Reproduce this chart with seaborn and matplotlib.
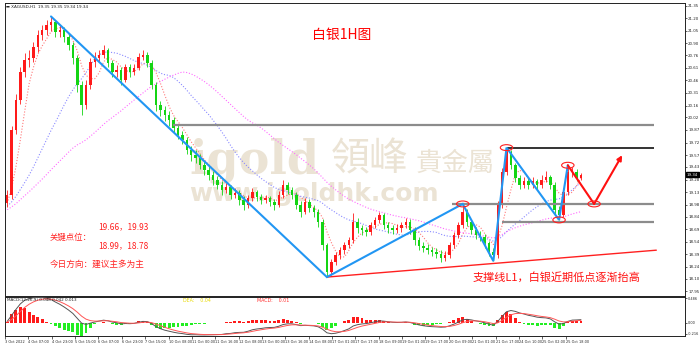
import numpy as np
import pandas as pd
import matplotlib
matplotlib.use("Agg")
import matplotlib.pyplot as plt
from matplotlib.patches import Ellipse
import seaborn as sns

# ---------------- data (3-hour bars) ----------------
first_open = 19.00
closes = [19.10, 19.87, 20.23, 20.56, 20.70, 20.73, 20.86, 21.00, 21.06, 21.12,
          21.15, 21.04, 21.06, 20.98, 20.88, 20.73, 20.41, 20.17, 20.41, 20.68,
          20.73, 20.76, 20.82, 20.67, 20.56, 20.58, 20.47, 20.62, 20.56, 20.61,
          20.74, 20.76, 20.67, 20.41, 20.17, 20.11, 20.05, 19.99, 19.89, 19.81,
          19.75, 19.63, 19.57, 19.54, 19.45, 19.39, 19.34, 19.28, 19.22, 19.16,
          19.19, 19.10, 19.12, 19.04, 18.98, 19.06, 19.13, 19.07, 19.04, 19.06,
          19.01, 18.98, 19.10, 19.22, 19.16, 19.10, 18.98, 18.90, 19.01, 18.94,
          18.90, 18.78, 18.50, 18.18, 18.30, 18.38, 18.44, 18.50, 18.56, 18.78,
          18.70, 18.68, 18.66, 18.74, 18.80, 18.86, 18.74, 18.70, 18.68, 18.70,
          18.74, 18.78, 18.68, 18.56, 18.49, 18.47, 18.44, 18.42, 18.40, 18.35,
          18.38, 18.50, 18.62, 18.74, 18.90, 18.78, 18.68, 18.62, 18.60, 18.52,
          18.42, 18.38, 18.98, 19.37, 19.61, 19.45, 19.30, 19.22, 19.26, 19.22,
          19.26, 19.22, 19.28, 19.31, 19.22, 18.92, 18.86, 19.13, 19.37, 19.37,
          19.30, 19.34]
highs = [19.15, 19.92, 20.30, 20.62, 20.78, 20.82, 20.92, 21.06, 21.12, 21.18,
         21.22, 21.17, 21.12, 21.10, 21.02, 20.92, 20.76, 20.45, 20.46, 20.72,
         20.80, 20.82, 20.88, 20.85, 20.70, 20.64, 20.62, 20.66, 20.66, 20.66,
         20.78, 20.82, 20.80, 20.70, 20.44, 20.22, 20.16, 20.10, 20.03, 19.94,
         19.86, 19.79, 19.68, 19.63, 19.58, 19.50, 19.44, 19.38, 19.32, 19.26,
         19.24, 19.22, 19.18, 19.15, 19.08, 19.10, 19.18, 19.16, 19.11, 19.10,
         19.09, 19.05, 19.14, 19.28, 19.25, 19.19, 19.13, 19.02, 19.06, 19.05,
         18.98, 18.93, 18.81, 18.53, 18.34, 18.42, 18.48, 18.54, 18.60, 18.88,
         18.82, 18.74, 18.72, 18.78, 18.84, 18.90, 18.88, 18.78, 18.74, 18.75,
         18.78, 18.82, 18.81, 18.71, 18.60, 18.54, 18.51, 18.48, 18.46, 18.44,
         18.43, 18.54, 18.66, 18.78, 18.99, 18.93, 18.81, 18.72, 18.67, 18.63,
         18.55, 18.46, 19.03, 19.42, 19.66, 19.63, 19.48, 19.33, 19.31, 19.30,
         19.31, 19.29, 19.33, 19.38, 19.34, 19.25, 18.96, 19.18, 19.45, 19.43,
         19.40, 19.36]
lows = [18.95, 19.05, 19.82, 20.18, 20.50, 20.62, 20.68, 20.80, 20.94, 21.00,
        21.05, 20.98, 20.98, 20.92, 20.82, 20.66, 20.32, 20.05, 20.12, 20.36,
        20.62, 20.68, 20.72, 20.62, 20.50, 20.50, 20.40, 20.44, 20.50, 20.52,
        20.58, 20.70, 20.62, 20.36, 20.10, 20.04, 19.98, 19.92, 19.84, 19.76,
        19.70, 19.58, 19.50, 19.48, 19.40, 19.33, 19.28, 19.22, 19.17, 19.10,
        19.12, 19.05, 19.06, 18.98, 18.92, 18.94, 19.02, 19.02, 18.99, 19.00,
        18.96, 18.92, 18.95, 19.06, 19.11, 19.05, 18.93, 18.84, 18.87, 18.89,
        18.84, 18.72, 18.44, 18.12, 18.14, 18.26, 18.34, 18.40, 18.46, 18.52,
        18.65, 18.62, 18.61, 18.62, 18.70, 18.76, 18.69, 18.65, 18.63, 18.64,
        18.66, 18.70, 18.63, 18.50, 18.44, 18.42, 18.39, 18.37, 18.35, 18.30,
        18.31, 18.35, 18.46, 18.58, 18.70, 18.73, 18.63, 18.57, 18.55, 18.47,
        18.37, 18.31, 18.35, 18.94, 19.33, 19.40, 19.25, 19.17, 19.18, 19.17,
        19.18, 19.17, 19.18, 19.25, 19.17, 18.87, 18.80, 18.83, 19.10, 19.31,
        19.26, 19.28]
# off-screen history (only used to warm up the moving averages / MACD)
prior_closes = [18.40, 18.55, 18.70, 18.62, 18.80, 18.90, 18.85, 18.95, 19.05, 18.98,
                18.90, 18.95, 19.00, 18.85, 18.80, 18.75, 18.90, 19.05, 19.10, 19.00,
                18.92, 18.85, 18.88, 18.95, 19.02, 18.98, 18.90, 18.82, 18.85, 18.95,
                19.05, 19.10, 19.00, 18.92, 18.96, 19.02, 18.98, 18.94, 18.97, 19.00]
hours_per_bar = 3

x_tick_labels = ["3 Oct 2022", "4 Oct 07:00", "4 Oct 23:00", "5 Oct 15:00", "6 Oct 07:00",
                 "6 Oct 23:00", "7 Oct 15:00", "10 Oct 08:00", "11 Oct 00:00", "11 Oct 16:00",
                 "12 Oct 08:00", "13 Oct 00:00", "13 Oct 16:00", "14 Oct 08:00", "17 Oct 01:00",
                 "17 Oct 17:00", "18 Oct 09:00", "19 Oct 01:00", "19 Oct 17:00", "20 Oct 09:00",
                 "21 Oct 01:00", "21 Oct 17:00", "24 Oct 10:00", "25 Oct 02:00", "25 Oct 18:00"]
price_ticks = [17.95, 18.10, 18.24, 18.39, 18.54, 18.69, 18.84, 18.98, 19.13, 19.28,
               19.43, 19.57, 19.72, 19.87, 20.02, 20.16, 20.31, 20.46, 20.61, 20.76,
               20.90, 21.05, 21.20, 21.35]
macd_ticks = [0.486, 0.0, -0.216]
macd_tick_labels = ["0.486", "0.00", "-0.216"]

key_levels = [19.93, 19.66, 18.99, 18.78]
key_level_start_bars = [37.8, 114, 101.6, 113]
key_level_end_bar = 147.7
zigzag_bars = [10, 73, 104, 111, 114, 126, 128]
zigzag_points = ["high", "low", "high", "low", "high", "low", "high"]
forecast_bars = [128, 134, 140.4]
forecast_prices = [19.45, 18.99, 19.57]
circle_bars = [104, 114, 126, 128, 134]
circle_prices = [18.99, 19.66, 18.80, 19.45, 18.99]
support_bars = [73, 148.2]
support_prices = [18.12, 18.44]
last_price = 19.34

# ---------------- derived ----------------
n = len(closes)
opens = [first_open] + closes[:-1]
bar_x = lambda b: np.asarray(b, dtype=float) * hours_per_bar + hours_per_bar / 2
df = pd.DataFrame({"bar": np.arange(n), "open": opens, "high": highs,
                   "low": lows, "close": closes})
df["x"] = bar_x(df["bar"])
full = pd.Series(prior_closes + closes)
k = len(prior_closes)
df["ma_fast"] = full.rolling(5, min_periods=1).mean().iloc[k:].values
df["ma_mid"] = full.rolling(20, min_periods=1).mean().iloc[k:].values
df["ma_slow"] = full.rolling(40, min_periods=1).mean().iloc[k:].values
ema_f = full.ewm(span=6, adjust=False).mean()
ema_s = full.ewm(span=13, adjust=False).mean()
dif = ema_f - ema_s
dea = dif.ewm(span=4.5, adjust=False).mean()
df["dif"] = dif.iloc[k:].values
df["dea"] = dea.iloc[k:].values
df["hist"] = 2 * (df["dif"] - df["dea"])

# ---------------- figure ----------------
sns.set_theme(style="white")
plt.rcParams["font.family"] = ["DejaVu Sans", "Noto Sans CJK SC"]
W, H = 700, 345
fig = plt.figure(figsize=(W / 100, H / 100), dpi=100)
fig.patch.set_facecolor("white")
ax = fig.add_axes([5 / W, 1 - 296 / H, 680 / W, 293 / H])
axm = fig.add_axes([5 / W, 1 - 336 / H, 680 / W, 39 / H])
xmax = 680 / 1.46
for a in (ax, axm):
    a.set_xlim(0, xmax)
    a.set_facecolor("white")
    for s in a.spines.values():
        s.set_color("#222222")
        s.set_linewidth(0.7)
ax.set_ylim(17.895, 21.38)
axm.set_ylim(-0.26, 0.506)

# watermark
wm = "#ebe3d4"
ax.text(189 / W, 1 - 173 / H, "igold", transform=fig.transFigure, fontsize=33,
        family="DejaVu Serif", weight="bold", color=wm, va="baseline", zorder=0.5)
ax.text(331 / W, 1 - 171 / H, "領峰", transform=fig.transFigure, fontsize=28,
        family=["Noto Sans CJK TC"], color=wm, va="baseline", zorder=0.5)
ax.text(416 / W, 1 - 171 / H, "貴金屬", transform=fig.transFigure, fontsize=19,
        family=["Noto Sans CJK TC"], color=wm, va="baseline", zorder=0.5)
ax.text(189 / W, 1 - 201 / H, "www.igoldhk.com", transform=fig.transFigure, fontsize=18,
        family="DejaVu Sans", weight="bold", color=wm, va="baseline", zorder=0.5)

# moving averages
ma_styles = [("ma_fast", "#ff7a7a"), ("ma_mid", "#8a8aff"), ("ma_slow", "#ff6bff")]
for col, c in ma_styles:
    sns.lineplot(data=df, x="x", y=col, ax=ax, color=c, linewidth=0.8,
                 linestyle=(0, (1, 1.6)), zorder=2)

# candles
up = df["close"] >= df["open"]
colors = np.where(up, "#ff1a1a", "#14d414")
ax.vlines(df["x"], df["low"], df["high"], colors=colors, linewidth=0.6, zorder=3)
body = np.maximum((df["close"] - df["open"]).abs(), 0.01)
ax.bar(df["x"], body, bottom=np.minimum(df["open"], df["close"]), width=1.7,
       color=colors, linewidth=0, zorder=4)

# key levels
level_colors = ["#8c8c8c", "#111111", "#8c8c8c", "#8c8c8c"]
level_widths = [1.6, 1.2, 1.6, 1.6]
for lv, sb, c, lw in zip(key_levels, key_level_start_bars, level_colors, level_widths):
    ax.plot(bar_x([sb, key_level_end_bar]), [lv, lv], color=c, lw=lw, zorder=5,
            solid_capstyle="butt")

# support line L1
ax.plot(bar_x(support_bars), support_prices, color="#ff2020", lw=1.0, zorder=5)

# zigzag
zz_y = [highs[b] if kind == "high" else lows[b] for b, kind in zip(zigzag_bars, zigzag_points)]
ax.plot(bar_x(zigzag_bars), zz_y, color="#2196f3", lw=1.5, zorder=6,
        solid_joinstyle="miter")

# forecast path
fx = bar_x(forecast_bars)
ax.plot(fx[:2], forecast_prices[:2], color="#ff1010", lw=1.5, zorder=6)
ax.annotate("", xy=(fx[2], forecast_prices[2]), xytext=(fx[1], forecast_prices[1]),
            arrowprops=dict(arrowstyle="-|>", color="#ff1010", lw=1.5,
                            mutation_scale=7, shrinkA=0, shrinkB=0), zorder=6)

# small circles
for b, p in zip(circle_bars, circle_prices):
    ax.add_patch(Ellipse((bar_x(b), p), width=8.5, height=0.07, fill=False,
                         edgecolor="#ff2020", lw=0.8, zorder=7))

# axes ticks
ax.yaxis.tick_right()
ax.set_yticks(price_ticks)
ax.set_yticklabels([f"{v:.2f}" for v in price_ticks])
ax.tick_params(axis="y", labelsize=2.9, length=1.5, pad=0.8, width=0.5, right=True)
ax.set_xticks([])
ax.set_xlabel("")
ax.set_ylabel("")
ax.text(1.003, last_price, f"{last_price:.2f}", transform=ax.get_yaxis_transform(),
        fontsize=2.9, color="white", va="center", ha="left", zorder=10, clip_on=False,
        bbox=dict(boxstyle="square,pad=0.15", fc="black", ec="black"))

# MACD panel
hcol = np.where(df["hist"] >= 0, "#ff1a1a", "#22ee22")
axm.bar(df["x"], df["hist"], width=2.0, color=hcol, linewidth=0, zorder=2)
sns.lineplot(data=df, x="x", y="dif", ax=axm, color="#555555", linewidth=0.7, zorder=3)
sns.lineplot(data=df, x="x", y="dea", ax=axm, color="#ff5555", linewidth=0.7, zorder=3)
axm.yaxis.tick_right()
axm.set_yticks(macd_ticks)
axm.set_yticklabels(macd_tick_labels)
axm.tick_params(axis="y", labelsize=2.5, length=1.5, pad=0.8, width=0.5, right=True)
axm.set_xticks([16 * i for i in range(len(x_tick_labels))])
axm.set_xticklabels(x_tick_labels, ha="left")
axm.tick_params(axis="x", labelsize=2.5, length=2, pad=1, width=0.5, bottom=True)
axm.set_xlabel("")
axm.set_ylabel("")

# texts
cjk = ["Noto Sans CJK SC", "DejaVu Sans"]
fig.text(6 / W, 1 - 7 / H, "▬ XAGUSD,H1  19.35 19.35 19.34 19.34", fontsize=3.0,
         va="center", color="#222222")
fig.text(7 / W, 1 - 300 / H, "MACD(12,26,9) 0.048 0.042 0.013", fontsize=3.0,
         va="center", color="#222222")
fig.text(183 / W, 1 - 300 / H, "DEA:    0.04", fontsize=3.4, va="center", color="#e8d800")
fig.text(257 / W, 1 - 300 / H, "MACD:    0.01", fontsize=3.4, va="center", color="#ff3030")
fig.text(342 / W, 1 - 35 / H, "白银1H图", fontsize=10, family=cjk, color="#ff0000",
         ha="center", va="center")
fig.text(98 / W, 1 - 227 / H, "19.66，19.93", fontsize=6, family=cjk, color="#ff2020", va="center")
fig.text(50 / W, 1 - 237 / H, "关键点位：", fontsize=6, family=cjk, color="#ff2020", va="center")
fig.text(98 / W, 1 - 246 / H, "18.99，18.78", fontsize=6, family=cjk, color="#ff2020", va="center")
fig.text(50 / W, 1 - 264 / H, "今日方向：建议主多为主", fontsize=6.2, family=cjk,
         color="#ff2020", va="center")
fig.text(473 / W, 1 - 277 / H, "支撑线L1，白银近期低点逐渐抬高", fontsize=8, family=cjk,
         color="#ff1010", va="center")

fig.savefig("out.png", dpi=100, facecolor="white")
